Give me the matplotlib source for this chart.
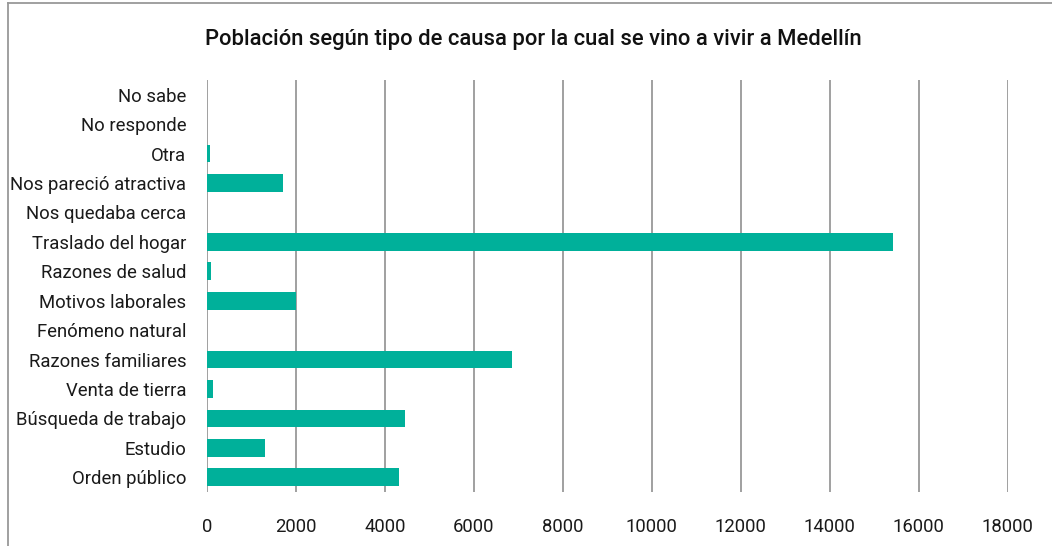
import matplotlib
matplotlib.use("Agg")
import matplotlib.pyplot as plt

CATEGORIES = ["No sabe", "No responde", "Otra", "Nos pareció atractiva",
              "Nos quedaba cerca", "Traslado del hogar", "Razones de salud",
              "Motivos laborales", "Fenómeno natural", "Razones familiares",
              "Venta de tierra", "Búsqueda de trabajo", "Estudio", "Orden público"]
VALUES = [0, 0, 60, 1700, 0, 15410, 85, 1995, 0, 6850, 145, 4440, 1300, 4310]
XTICKS = list(range(0, 18001, 2000))
TITLE = "Población según tipo de causa por la cual se vino a vivir a Medellín"

plt.rcParams["font.family"] = ["Roboto", "DejaVu Sans"]

fig = plt.figure(figsize=(10.52, 5.46), dpi=100)
ax = fig.add_axes([0.1968, 0.0989, 0.7612, 0.7546])

ypos = list(range(len(CATEGORIES)))
ax.barh(ypos, VALUES, height=0.6, color="#00b09a", zorder=3)

ax.set_ylim(len(CATEGORIES) - 0.5, -0.5)
ax.set_xlim(0, 18000)
ax.set_yticks(ypos)
ax.set_yticklabels(CATEGORIES, fontsize=13.3, color="#1a1a1a")
ax.set_xticks(XTICKS)
ax.set_xticklabels([str(v) for v in XTICKS], fontsize=13.3, color="#1a1a1a")
ax.tick_params(axis="both", length=0)
ax.tick_params(axis="y", pad=15)
ax.tick_params(axis="x", pad=19)
ax.grid(axis="x", color="#999999", lw=1.3, zorder=0)
for s in ax.spines.values():
    s.set_visible(False)

fig.text(0.507, 0.928, TITLE, ha="center", va="center", fontsize=15.8,
         fontweight="medium", color="#111111")

# frame lines around the chart area
fig.add_artist(plt.Line2D([0.0076, 0.0076], [0, 0.995], color="#999999", lw=1.3))
fig.add_artist(plt.Line2D([0.0076, 1.0], [0.995, 0.995], color="#999999", lw=1.3))

plt.savefig("out.png", dpi=100)
